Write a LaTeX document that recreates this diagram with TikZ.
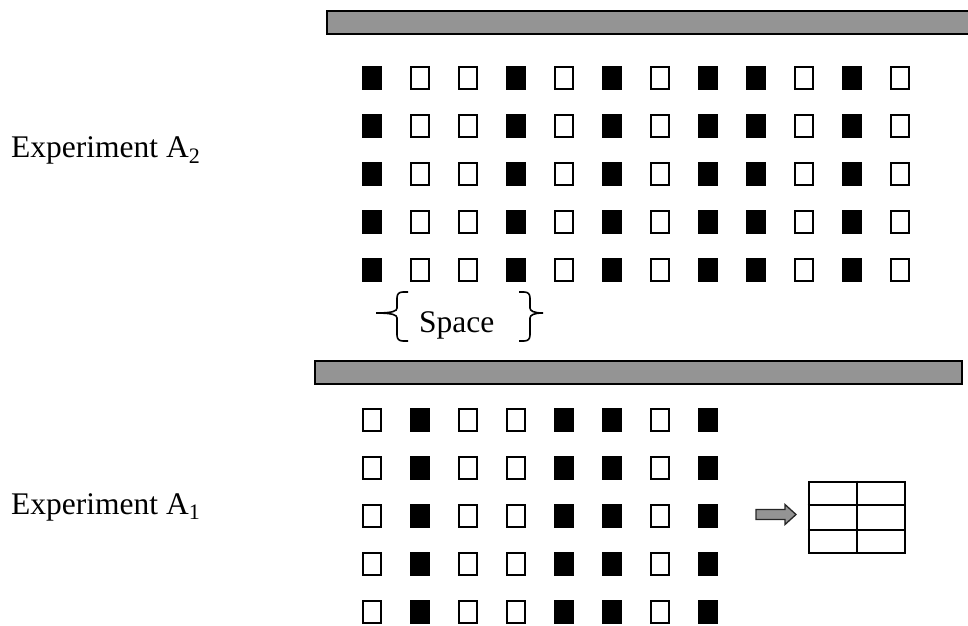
\documentclass[tikz,border=0pt]{standalone}
\usepackage{fontspec}
\setmainfont{Liberation Serif}
\tikzset{
  sqempty/.style={draw=black, line width=2pt, fill=white, minimum width=18pt, minimum height=22pt, inner sep=0pt},
  sqfull/.style={fill=black, minimum width=20pt, minimum height=24pt, inner sep=0pt},
  bar/.style={draw=black, line width=2pt, fill=black!42},
  lbl/.style={inner sep=0pt, anchor=base west, font=\fontsize{31.5}{36}\selectfont},
  bracepath/.style={draw=black, line width=1.6pt},
}
\begin{document}
\begin{tikzpicture}[x=1pt,y=-1pt]
\useasboundingbox (0,0) rectangle (968,625);
% bars
\draw[bar] (327,11) rectangle (972,34);
\draw[bar] (315,361) rectangle (962,384);
% top grid (Experiment A2)
\foreach \v [count=\c] in {1,0,0,1,0,1,0,1,1,0,1,0}{
  \foreach \r in {1,...,5}{
    \ifnum\v=1
      \node[sqfull] (t-\r-\c) at ({372+48*(\c-1)},{78+48*(\r-1)}) {};
    \else
      \node[sqempty] (t-\r-\c) at ({372+48*(\c-1)},{78+48*(\r-1)}) {};
    \fi
  }
}
% bottom grid (Experiment A1)
\foreach \v [count=\c] in {0,1,0,0,1,1,0,1}{
  \foreach \r in {1,...,5}{
    \ifnum\v=1
      \node[sqfull] (b-\r-\c) at ({372+48*(\c-1)},{420+48*(\r-1)}) {};
    \else
      \node[sqempty] (b-\r-\c) at ({372+48*(\c-1)},{420+48*(\r-1)}) {};
    \fi
  }
}
% labels
\node[lbl] (la2) at (11,157) {Experiment A\textsubscript{2}};
\node[lbl] (la1) at (11,514) {Experiment A\textsubscript{1}};
\node[lbl] (sp) at (419,332) {Space};
% braces
\draw[bracepath] (408,292) -- (403,292) .. controls (399,292) and (397,294) .. (397,298)
  -- (397,308) .. controls (397,311) and (393,313) .. (376,313)
  .. controls (393,313) and (397,315) .. (397,318)
  -- (397,335) .. controls (397,339) and (399,341) .. (403,341) -- (408,341);
\draw[bracepath] (519,292) -- (524,292) .. controls (528,292) and (530,294) .. (530,298)
  -- (530,308) .. controls (530,311) and (534,313) .. (543,313)
  .. controls (534,313) and (530,315) .. (530,318)
  -- (530,335) .. controls (530,339) and (528,341) .. (524,341) -- (519,341);
% arrow
\draw[draw=black!85, line width=1.3pt, fill=black!42, line join=miter]
  (756,509.5) -- (785,509.5) -- (785,504.5) -- (796,514.5) -- (785,524.5) -- (785,519.5) -- (756,519.5) -- cycle;
% table
\node[draw=black, line width=2pt, minimum width=96pt, minimum height=71pt, inner sep=0pt] (tbl) at (856.5,517) {};
\draw[line width=2pt] (tbl.north) -- (tbl.south);
\draw[line width=2pt] ([yshift=-24pt]tbl.north west) -- ([yshift=-24pt]tbl.north east);
\draw[line width=2pt] ([yshift=24pt]tbl.south west) -- ([yshift=24pt]tbl.south east);
\end{tikzpicture}
\end{document}
